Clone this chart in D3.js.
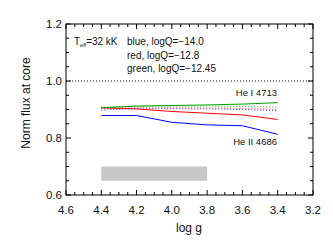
<!DOCTYPE html>
<html><head><meta charset="utf-8">
<script src="https://cdn.jsdelivr.net/npm/d3@7"></script>
<style>body{margin:0;background:#fff}svg{display:block}text{font-family:"Liberation Sans",Arial,sans-serif;fill:#111}</style>
</head><body>
<script>
const logg = [4.4, 4.2, 4.0, 3.8, 3.6, 3.4];
const heII_blue  = [0.879, 0.879, 0.855, 0.846, 0.843, 0.813];
const heII_red   = [0.906, 0.902, 0.893, 0.887, 0.881, 0.865];
const heII_green = [0.906, 0.912, 0.914, 0.916, 0.919, 0.924];
const heI_blue   = [0.898, 0.903, 0.903, 0.902, 0.900, 0.896];
const heI_red    = [0.903, 0.906, 0.906, 0.905, 0.904, 0.900];
const heI_green  = [0.908, 0.912, 0.912, 0.912, 0.911, 0.908];
const xTicks = [4.6, 4.4, 4.2, 4.0, 3.8, 3.6, 3.4, 3.2];
const yTicks = [0.6, 0.8, 1.0, 1.2];
const band = {x0: 4.4, x1: 3.8, y0: 0.65, y1: 0.70};
const refLevel = 1.0;

const W = 333, H = 245;
const svg = d3.select("body").append("svg").attr("width", W).attr("height", H);
const x = d3.scaleLinear().domain([4.6, 3.2]).range([66, 313]);
const y = d3.scaleLinear().domain([0.6, 1.2]).range([195, 24]);

svg.append("rect").attr("x", x(band.x0)).attr("y", y(band.y1))
  .attr("width", x(band.x1) - x(band.x0)).attr("height", y(band.y0) - y(band.y1))
  .attr("fill", "#c8c8c8");

svg.append("line").attr("x1", x(4.6)).attr("x2", x(3.2)).attr("y1", y(refLevel)).attr("y2", y(refLevel))
  .attr("stroke", "#000").attr("stroke-width", 1).attr("stroke-dasharray", "1,2");

const line = d3.line().x((d, i) => x(logg[i])).y(d => y(d));
const series = [
  [heI_blue, "#3030ff", true], [heI_red, "#ff3030", true], [heI_green, "#20b020", true],
  [heII_blue, "#0000ff", false], [heII_red, "#ff0000", false], [heII_green, "#00a000", false]
];
series.forEach(([v, c, dot]) => {
  svg.append("path").attr("d", line(v)).attr("fill", "none").attr("stroke", c)
    .attr("stroke-width", 1).attr("stroke-dasharray", dot ? "1,2" : null);
});

svg.append("rect").attr("x", 66).attr("y", 24).attr("width", 247).attr("height", 171)
  .attr("fill", "none").attr("stroke", "#000").attr("stroke-width", 1);

const xMinor = d3.range(4.6, 3.19, -0.05);
const yMinor = d3.range(0.6, 1.201, 0.05);
const tk = svg.append("g").attr("stroke", "#000").attr("stroke-width", 1);
xMinor.forEach(v => {
  const major = xTicks.some(t => Math.abs(t - v) < 1e-6);
  const L = major ? 5 : 3;
  tk.append("line").attr("x1", x(v)).attr("x2", x(v)).attr("y1", 195).attr("y2", 195 - L);
  tk.append("line").attr("x1", x(v)).attr("x2", x(v)).attr("y1", 24).attr("y2", 24 + L);
});
yMinor.forEach(v => {
  const major = yTicks.some(t => Math.abs(t - v) < 1e-6);
  const L = major ? 5 : 3;
  tk.append("line").attr("x1", 66).attr("x2", 66 + L).attr("y1", y(v)).attr("y2", y(v));
  tk.append("line").attr("x1", 313).attr("x2", 313 - L).attr("y1", y(v)).attr("y2", y(v));
});

xTicks.forEach(t => svg.append("text").attr("x", x(t)).attr("y", 214).attr("text-anchor", "middle")
  .attr("font-size", 11.5).text(t.toFixed(1)));
yTicks.forEach(t => svg.append("text").attr("x", 62).attr("y", y(t) + 4).attr("text-anchor", "end")
  .attr("font-size", 11.5).text(t.toFixed(1)));

svg.append("text").attr("x", 189).attr("y", 232).attr("text-anchor", "middle").attr("font-size", 12).text("log g");
svg.append("text").attr("transform", "translate(30,103) rotate(-90)").attr("text-anchor", "middle")
  .attr("font-size", 12).text("Norm flux at core");

const t1 = svg.append("text").attr("x", 74).attr("y", 45).attr("font-size", 10);
t1.append("tspan").text("T");
t1.append("tspan").attr("font-size", 5.5).attr("dy", 2).text("eff");
t1.append("tspan").attr("dy", -2).text("=32 kK");
svg.append("text").attr("x", 127).attr("y", 45).attr("font-size", 10).text("blue, logQ=\u221214.0");
svg.append("text").attr("x", 127).attr("y", 58.5).attr("font-size", 10).text("red, logQ=\u221212.8");
svg.append("text").attr("x", 127).attr("y", 72).attr("font-size", 10).text("green, logQ=\u221212.45");
svg.append("text").attr("x", 277).attr("y", 96).attr("text-anchor", "end").attr("font-size", 9.5).text("He I 4713");
svg.append("text").attr("x", 277).attr("y", 145).attr("text-anchor", "end").attr("font-size", 9.5).text("He II 4686");
</script>
</body></html>
